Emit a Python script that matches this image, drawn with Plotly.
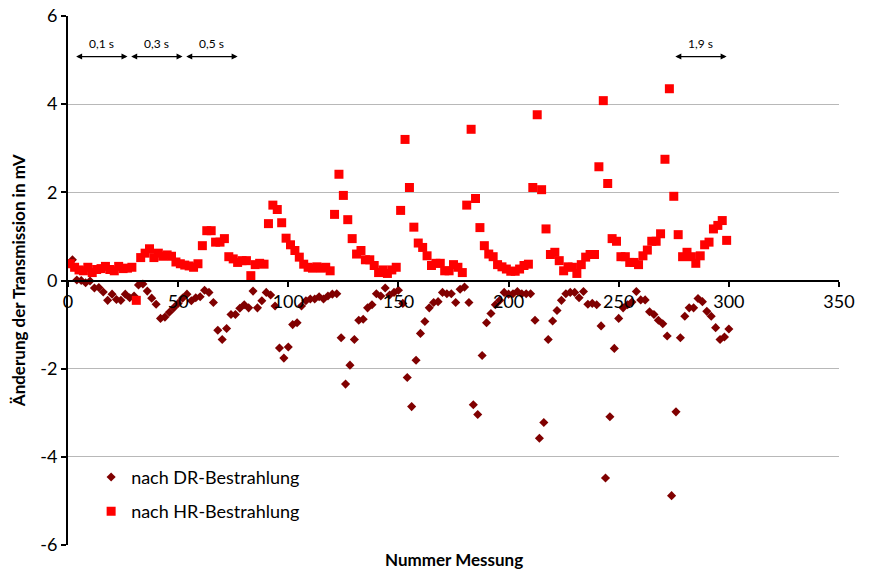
import plotly.graph_objects as go

# measurement numbers
hr_x = list(range(1, 300, 2))
dr_x = list(range(2, 301, 2))

# nach HR-Bestrahlung (red squares)
hr_y = [
    0.38, 0.30, 0.24, 0.22, 0.30, 0.18, 0.25, 0.27, 0.32, 0.25,
    0.22, 0.32, 0.27, 0.28, 0.30, -0.45, 0.52, 0.62, 0.72, 0.52,
    0.62, 0.55, 0.58, 0.55, 0.42, 0.38, 0.35, 0.33, 0.30, 0.38,
    0.79, 1.13, 1.13, 0.87, 0.87, 0.95, 0.54, 0.49, 0.41, 0.45,
    0.45, 0.11, 0.36, 0.39, 0.37, 1.29, 1.71, 1.61, 1.31, 0.96,
    0.81, 0.68, 0.53, 0.37, 0.30, 0.28, 0.31, 0.28, 0.30, 0.22,
    1.50, 2.41, 1.93, 1.38, 0.95, 0.60, 0.68, 0.47, 0.47, 0.34,
    0.18, 0.24, 0.16, 0.24, 0.30, 1.59, 3.20, 2.11, 1.21, 0.85,
    0.75, 0.56, 0.34, 0.39, 0.39, 0.22, 0.22, 0.36, 0.30, 0.18,
    1.71, 3.43, 1.86, 1.20, 0.79, 0.60, 0.54, 0.36, 0.31, 0.26,
    0.21, 0.21, 0.26, 0.34, 0.37, 2.11, 3.76, 2.06, 1.17, 0.59,
    0.64, 0.45, 0.22, 0.31, 0.30, 0.16, 0.36, 0.53, 0.59, 0.59,
    2.58, 4.08, 2.20, 0.95, 0.89, 0.54, 0.54, 0.41, 0.41, 0.36,
    0.56, 0.69, 0.89, 0.89, 1.06, 2.75, 4.35, 1.91, 1.04, 0.54,
    0.64, 0.54, 0.39, 0.56, 0.81, 0.87, 1.17, 1.25, 1.36, 0.91,
]

# nach DR-Bestrahlung (dark red diamonds)
dr_y = [
    0.47, 0.01, 0.00, -0.05, -0.01, -0.17, -0.16, -0.26, -0.45, -0.31,
    -0.43, -0.45, -0.31, -0.39, -0.35, -0.10, -0.08, -0.24, -0.40, -0.54,
    -0.86, -0.83, -0.72, -0.62, -0.52, -0.40, -0.31, -0.46, -0.39, -0.37,
    -0.22, -0.27, -0.50, -1.13, -1.34, -1.09, -0.77, -0.77, -0.63, -0.55,
    -0.62, -0.24, -0.62, -0.46, -0.27, -0.33, -0.58, -1.53, -1.76, -1.51,
    -1.00, -0.96, -0.58, -0.46, -0.42, -0.42, -0.37, -0.42, -0.35, -0.31,
    -0.30, -1.30, -2.35, -1.92, -1.34, -0.90, -0.88, -0.62, -0.55, -0.30,
    -0.35, -0.17, -0.33, -0.27, -0.22, -0.52, -2.20, -2.86, -1.81, -1.20,
    -0.93, -0.62, -0.50, -0.48, -0.27, -0.30, -0.30, -0.50, -0.20, -0.15,
    -0.50, -2.82, -3.04, -1.70, -0.96, -0.75, -0.55, -0.45, -0.27, -0.31,
    -0.30, -0.25, -0.30, -0.30, -0.30, -0.90, -3.58, -3.22, -1.34, -0.92,
    -0.68, -0.45, -0.30, -0.27, -0.27, -0.39, -0.25, -0.54, -0.52, -0.55,
    -1.03, -4.48, -3.09, -1.54, -0.86, -0.62, -0.55, -0.49, -0.25, -0.44,
    -0.44, -0.71, -0.77, -0.90, -0.98, -1.26, -4.88, -2.98, -1.30, -0.81,
    -0.62, -0.62, -0.41, -0.48, -0.70, -0.81, -1.07, -1.34, -1.28, -1.10,
]

y_ticks = [-6, -4, -2, 0, 2, 4, 6]
y_ticktext = ["-6", "-4", "-2", "0", "2", "4", "6"]
x_ticks = [0, 50, 100, 150, 200, 250, 300, 350]

# duration annotations: (label, start, end)
durations = [("0,1 s", 3, 27), ("0,3 s", 28, 52), ("0,5 s", 53, 77), ("1,9 s", 275, 299)]
arrow_level = 5.08
label_level = 5.38

FONT = "Lato, 'Liberation Sans', sans-serif"

fig = go.Figure()
fig.add_trace(go.Scatter(
    x=dr_x, y=dr_y, mode="markers", name="nach DR-Bestrahlung",
    legendgroup="dr",
    marker=dict(symbol="diamond", size=7, color="#800000", line=dict(width=0)),
))
fig.add_trace(go.Scatter(
    x=hr_x, y=hr_y, mode="markers", name="nach HR-Bestrahlung",
    legendgroup="hr",
    marker=dict(symbol="square", size=9, color="#FF0000", line=dict(width=0)),
))

for label, a, b in durations:
    fig.add_annotation(
        x=b, y=arrow_level, ax=a, ay=arrow_level, xref="x", yref="y",
        axref="x", ayref="y", text="", showarrow=True, arrowhead=2,
        arrowside="end+start", arrowsize=1, arrowwidth=1.2, arrowcolor="black",
    )
    fig.add_annotation(
        x=(a + b) / 2, y=label_level, xref="x", yref="y", text=label,
        showarrow=False, font=dict(family=FONT, size=12, color="black"),
    )

fig.add_annotation(
    x=0.5, y=-0.028, xref="paper", yref="paper", text="Nummer Messung",
    showarrow=False, yanchor="middle",
    font=dict(family=FONT, size=17, color="black", weight="bold"),
)
fig.add_annotation(
    x=-0.064, y=0.5, xref="paper", yref="paper",
    text="Änderung der Transmission in mV", textangle=-90,
    showarrow=False, xanchor="center",
    font=dict(family=FONT, size=17, color="black", weight="bold"),
)

fig.update_layout(
    width=870, height=569,
    margin=dict(l=68, r=31, t=16, b=24, autoexpand=False),
    paper_bgcolor="white", plot_bgcolor="white",
    font=dict(family=FONT, size=18, color="black"),
    showlegend=True,
    hovermode=False,
    legend=dict(
        x=0.03, y=0.163, xanchor="left", yanchor="top",
        bgcolor="rgba(0,0,0,0)", font=dict(family=FONT, size=18),
        traceorder="grouped", tracegroupgap=8,
    ),
    xaxis=dict(
        range=[0, 350], tickvals=x_ticks, anchor="free", position=0.5,
        showline=True, linecolor="black", linewidth=2,
        ticks="outside", ticklen=5, tickwidth=1.5, tickcolor="black",
        showgrid=False, zeroline=False, automargin=False,
        tickfont=dict(family=FONT, size=18),
    ),
    yaxis=dict(
        range=[-6, 6], tickvals=y_ticks, ticktext=y_ticktext,
        showline=True, linecolor="black", linewidth=2,
        ticks="outside", ticklen=5, tickwidth=1.5, tickcolor="black",
        showgrid=True, gridcolor="#b8b8b8", gridwidth=1, zeroline=False,
        automargin=False,
        tickfont=dict(family=FONT, size=18),
    ),
)

fig.write_html(
    "out.html",
    config={"displayModeBar": False},
    post_script="document.body.style.margin='0';document.body.style.overflow='hidden';",
)
